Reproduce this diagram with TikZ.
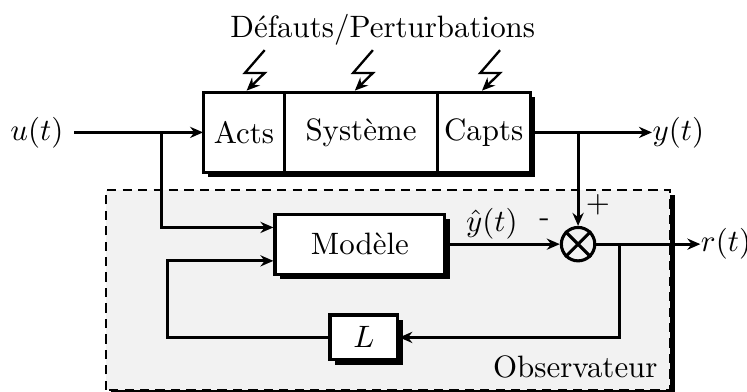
\documentclass[tikz,border=0pt]{standalone}
\usepackage{xcolor}
\usepackage{tikz}
\usetikzlibrary{calc,arrows,arrows.meta,shapes,shadows,positioning}

\tikzset{
  bloc/.style={draw, line width=1pt, fill=white, inner sep=0pt,
    drop shadow={fill=black, opacity=1, shadow xshift=1.6pt, shadow yshift=-1.6pt}},
  sumnode/.style={draw, line width=1pt, circle, minimum size=0.38cm, inner sep=0pt},
  fleche/.style={line width=1pt, -{Stealth[length=4.2pt,width=3.6pt]}},
  eclair/.style={line width=0.75pt, -{Stealth[length=4.2pt,width=3.6pt]}},
  lbl/.style={inner sep=0pt}
}

\begin{document}
\begin{tikzpicture}
    \useasboundingbox (0,0) rectangle (8.49,4.455);

    % observateur
    \draw[line width=0.9pt, dash pattern=on 3pt off 2pt, fill=black!5,
      drop shadow={fill=black, opacity=1, shadow xshift=1.6pt, shadow yshift=-1.6pt}]
      (1.205,0.023) rectangle (7.614,2.295);
    \node[lbl, anchor=base east] (obs) at (7.48,0.17) {Observateur};

    % systeme
    \node[bloc, outer sep=0pt, minimum width=0.93cm, minimum height=0.91cm] (acts) at (2.773,2.95) {Acts};
    \node[bloc, outer sep=0pt, minimum width=1.73cm, minimum height=0.91cm, right=0pt of acts] (sys) {Système};
    \node[bloc, outer sep=0pt, minimum width=1.06cm, minimum height=0.91cm, right=0pt of sys] (capts) {Capts};
    \node[anchor=base] (def) at (4.35,4.034) {Défauts/Perturbations};

    \foreach \n/\dx in {acts/0.03,sys/-0.07,capts/-0.02} {
        \draw[eclair] ($(\n.north)+(\dx,0)+(0.205,0.48)$) -- ++(-0.225,-0.26) -- ++(0.225,0)
          -- ($(\n.north)+(\dx,0.02)$);
    }

    \node (u) at (0.42,2.95) {$u(t)$};
    \node[lbl, anchor=west] (y) at (7.41,2.95) {$y(t)$};

    % modele, gain, comparateur
    \node[bloc, minimum width=1.93cm, minimum height=0.68cm] (mod) at (4.09,1.68) {Modèle};
    \node[bloc, minimum width=0.77cm, minimum height=0.51cm] (L) at (4.136,0.62) {$L$};
    \node[sumnode] (sum) at (6.57,1.68) {};
    \draw[line width=1pt] (sum.north west) -- (sum.south east) (sum.north east) -- (sum.south west);
    \node[lbl, anchor=west] (r) at (7.96,1.68) {$r(t)$};

    \node[lbl] (plus) at (6.795,2.125) {$+$};
    \node[lbl] (moins) at (6.19,1.92) {-};
    \node[lbl, anchor=south] (yh) at (5.59,1.73) {$\hat{y}(t)$};

    \coordinate (b1) at (1.84,2.95);
    \coordinate (b2) at (sum |- capts);
    \coordinate (b3) at (7.045,1.68);
    \coordinate (b4) at (1.90,0.62);

    \draw[fleche] (u) -- (acts);
    \draw[fleche] (b1) |- ([yshift=0.19cm]mod.west);
    \draw[fleche] (capts) -- (y);
    \draw[fleche] (b2) -- (sum);
    \draw[fleche] (mod) -- (sum);
    \draw[fleche] (sum) -- (r);
    \draw[fleche] (b3) |- (L);
    \draw[fleche] (L) -- (b4) |- ([yshift=-0.19cm]mod.west);
\end{tikzpicture}
\end{document}
